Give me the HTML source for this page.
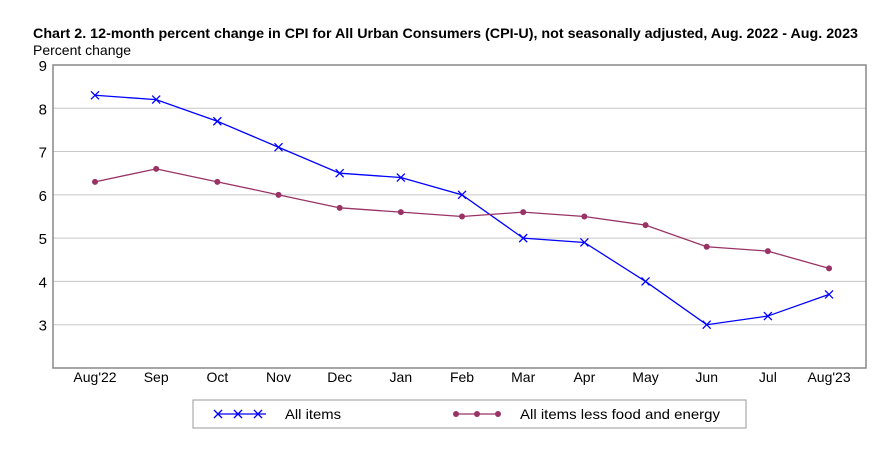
<!DOCTYPE html>
<html><head><meta charset="utf-8"><style>
body{margin:0;background:#fff;font-family:"Liberation Sans",Arial,sans-serif}
</style></head><body>
<svg width="882" height="457" xmlns="http://www.w3.org/2000/svg">
<text x="33" y="38" font-size="14" font-weight="bold" fill="#000" textLength="825" lengthAdjust="spacingAndGlyphs">Chart 2. 12-month percent change in CPI for All Urban Consumers (CPI-U), not seasonally adjusted, Aug. 2022 - Aug. 2023</text>
<text x="33" y="55" font-size="14" fill="#000">Percent change</text>
<g id="grid"></g>
<rect x="53" y="65" width="813" height="303" fill="none" stroke="#888" stroke-width="1.5"/>
<g id="marks"></g>
<rect x="193" y="400" width="553" height="28" fill="#fff" stroke="#999"/>
<g>
<line x1="218" y1="414" x2="266" y2="414" stroke="#0000ff" stroke-width="1.3"/>
<path d="M218,410l8,8M226,410l-8,8M238,410l8,8M246,410l-8,8M258,410l8,8M266,410l-8,8" stroke="#0000ff" stroke-width="1.3" transform="translate(-4,0)"/>
<text x="285" y="419" font-size="14" textLength="56" lengthAdjust="spacingAndGlyphs">All items</text>
</g>
<g>
<line x1="456" y1="414" x2="498" y2="414" stroke="#993366" stroke-width="1.3"/>
<circle cx="456" cy="414" r="3" fill="#993366"/><circle cx="477" cy="414" r="3" fill="#993366"/><circle cx="498" cy="414" r="3" fill="#993366"/>
<text x="520" y="419" font-size="14" textLength="200" lengthAdjust="spacingAndGlyphs">All items less food and energy</text>
</g>
</svg>
<script>
const categories=["Aug'22","Sep","Oct","Nov","Dec","Jan","Feb","Mar","Apr","May","Jun","Jul","Aug'23"];
const allItems=[8.3,8.2,7.7,7.1,6.5,6.4,6.0,5.0,4.9,4.0,3.0,3.2,3.7];
const core=[6.3,6.6,6.3,6.0,5.7,5.6,5.5,5.6,5.5,5.3,4.8,4.7,4.3];
const yTicks=[3,4,5,6,7,8,9];
const NS="http://www.w3.org/2000/svg";
const x=i=>95+i*61.17;
const y=v=>368-(v-2)*43.29;
function mk(t,a,p){const e=document.createElementNS(NS,t);for(const k in a)e.setAttribute(k,a[k]);p.appendChild(e);return e;}
const grid=document.getElementById('grid'),marks=document.getElementById('marks');
yTicks.forEach(v=>{
 if(v<9){const l=mk('line',{x1:53,x2:866,y1:y(v),y2:y(v),stroke:'#c8c8c8'},grid);
 
 }
 const t=mk('text',{x:47,y:y(v)+6,'font-size':15,'text-anchor':'end'},grid);t.textContent=v;
 
 
});
categories.forEach((c,i)=>{
 const t=mk('text',{x:x(i),y:382,'font-size':14,'text-anchor':'middle'},grid);t.textContent=c;
 
 
});
const p1=mk('polyline',{points:allItems.map((v,i)=>x(i)+','+y(v)).join(' '),fill:'none',stroke:'#0000ff','stroke-width':1.3},marks);


const p2=mk('polyline',{points:core.map((v,i)=>x(i)+','+y(v)).join(' '),fill:'none',stroke:'#993366','stroke-width':1.3},marks);


allItems.forEach((v,i)=>{
 const cx=x(i),cy=y(v);
 const m=mk('path',{d:`M${cx-4},${cy-4}l8,8M${cx+4},${cy-4}l-8,8`,stroke:'#0000ff','stroke-width':1.3},marks);
 
 
});
core.forEach((v,i)=>{
 const c=mk('circle',{cx:x(i),cy:y(v),r:3,fill:'#993366'},marks);
 
 
});
</script>
</body></html>
